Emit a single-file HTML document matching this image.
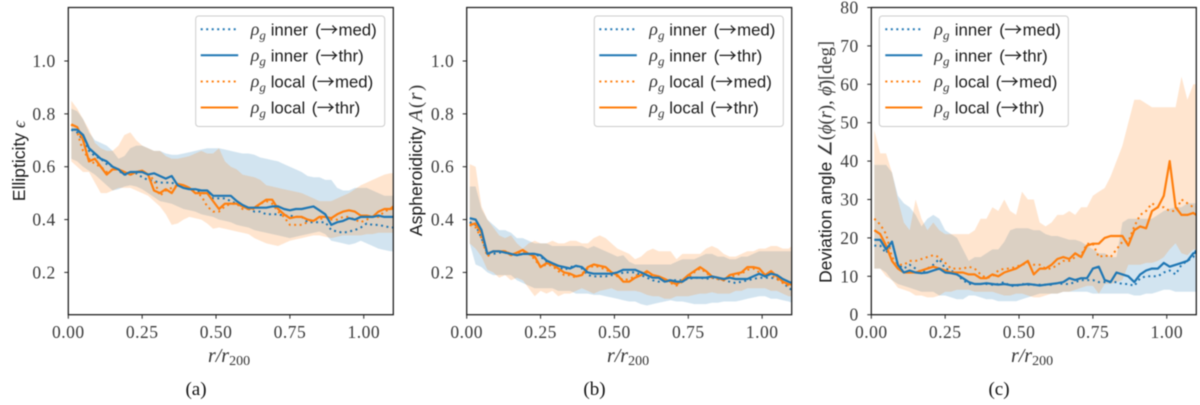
<!DOCTYPE html>
<html lang="en">
<head>
<meta charset="utf-8">
<title>Ellipticity, asphericity and deviation angle profiles</title>
<style>
html,body{margin:0;padding:0;background:#fff;}
body{width:1200px;height:405px;overflow:hidden;}
svg{display:block;filter:blur(0.4px);}
.tick{font-family:"Liberation Serif",serif;font-size:17.5px;letter-spacing:.5px;fill:#3a3a3a;}
.sans{font-family:"Liberation Sans",sans-serif;font-size:17.6px;fill:#1a1a1a;}
.math{font-family:"Liberation Serif",serif;font-style:italic;fill:#333;}
.rom{font-family:"Liberation Serif",serif;font-size:18.5px;fill:#333;}
.cap{font-family:"Liberation Serif",serif;font-size:19px;fill:#111;}
.leg{font-family:"Liberation Sans",sans-serif;font-size:16.8px;fill:#1a1a1a;}
.arr{font-family:"Noto Sans CJK JP",sans-serif;font-size:18px;font-weight:normal;}
</style>
</head>
<body>
<svg xmlns="http://www.w3.org/2000/svg" width="1200" height="405" viewBox="0 0 1200 405">
  <g id="panel-a"></g>
  <g id="panel-b"></g>
  <g id="panel-c"></g>

  <text class="sans" transform="translate(25,161) rotate(-90)" text-anchor="middle">Ellipticity <tspan class="math" font-size="18">ϵ</tspan></text>
  <text class="sans" transform="translate(422,160.5) rotate(-90)" text-anchor="middle">Aspheroidicity <tspan class="math" font-size="20" letter-spacing="1.5">A</tspan><tspan class="rom" font-size="20" letter-spacing="1.5">(</tspan><tspan class="math" font-size="20" letter-spacing="1.5">r</tspan><tspan class="rom" font-size="20">)</tspan></text>
  <text class="sans" transform="translate(831.5,162) rotate(-90)" text-anchor="middle">Deviation angle <tspan class="rom">∠(</tspan><tspan class="math" font-size="18.5">ϕ</tspan><tspan class="rom">(</tspan><tspan class="math" font-size="18.5">r</tspan><tspan class="rom">), </tspan><tspan class="math" font-size="18.5">ϕ̄</tspan><tspan class="rom">)[deg]</tspan></text>

  <text class="math" x="229" y="362" font-size="20" text-anchor="middle">r/r<tspan dy="3" font-size="14" font-style="normal">200</tspan></text>
  <text class="math" x="628" y="362" font-size="20" text-anchor="middle">r/r<tspan dy="3" font-size="14" font-style="normal">200</tspan></text>
  <text class="math" x="1032" y="362" font-size="20" text-anchor="middle">r/r<tspan dy="3" font-size="14" font-style="normal">200</tspan></text>

  <text class="cap" x="196" y="395" text-anchor="middle">(a)</text>
  <text class="cap" x="594.5" y="395" text-anchor="middle">(b)</text>
  <text class="cap" x="999" y="395" text-anchor="middle">(c)</text>

  <g transform="translate(195.7,16)">
    <rect x="0" y="0" width="189" height="110.5" rx="3" fill="#fff" fill-opacity="0.8" stroke="#ccc"/>
    <line x1="5" x2="42.5" y1="13.3" y2="13.3" stroke="#1f77b4" stroke-width="2" stroke-dasharray="2 3.5"/>
    <text x="55" y="19" class="math" font-size="18">ρ<tspan dy="4.5" font-size="13">g</tspan></text>
    <text x="75" y="19.5" class="leg">inner <tspan x="119.5">(</tspan><tspan class="arr" x="124.5" dy="1">→</tspan><tspan x="142.8" dy="-1">med)</tspan></text>
    <line x1="5" x2="42.5" y1="39.3" y2="39.3" stroke="#1f77b4" stroke-width="2"/>
    <text x="55" y="45" class="math" font-size="18">ρ<tspan dy="4.5" font-size="13">g</tspan></text>
    <text x="75" y="45.5" class="leg">inner <tspan x="119.5">(</tspan><tspan class="arr" x="124.5" dy="1">→</tspan><tspan x="142.8" dy="-1">thr)</tspan></text>
    <line x1="5" x2="42.5" y1="65.5" y2="65.5" stroke="#ff7f0e" stroke-width="2" stroke-dasharray="2 3.5"/>
    <text x="55" y="71" class="math" font-size="18">ρ<tspan dy="4.5" font-size="13">g</tspan></text>
    <text x="75" y="71.5" class="leg">local <tspan x="116">(</tspan><tspan class="arr" x="121" dy="1">→</tspan><tspan x="139.3" dy="-1">med)</tspan></text>
    <line x1="5" x2="42.5" y1="91.5" y2="91.5" stroke="#ff7f0e" stroke-width="2"/>
    <text x="55" y="97" class="math" font-size="18">ρ<tspan dy="4.5" font-size="13">g</tspan></text>
    <text x="75" y="97.5" class="leg">local <tspan x="116">(</tspan><tspan class="arr" x="121" dy="1">→</tspan><tspan x="139.3" dy="-1">thr)</tspan></text>
  </g>

  <g transform="translate(594.3,16)">
    <rect x="0" y="0" width="189" height="110.5" rx="3" fill="#fff" fill-opacity="0.8" stroke="#ccc"/>
    <line x1="5" x2="42.5" y1="13.3" y2="13.3" stroke="#1f77b4" stroke-width="2" stroke-dasharray="2 3.5"/>
    <text x="55" y="19" class="math" font-size="18">ρ<tspan dy="4.5" font-size="13">g</tspan></text>
    <text x="75" y="19.5" class="leg">inner <tspan x="119.5">(</tspan><tspan class="arr" x="124.5" dy="1">→</tspan><tspan x="142.8" dy="-1">med)</tspan></text>
    <line x1="5" x2="42.5" y1="39.3" y2="39.3" stroke="#1f77b4" stroke-width="2"/>
    <text x="55" y="45" class="math" font-size="18">ρ<tspan dy="4.5" font-size="13">g</tspan></text>
    <text x="75" y="45.5" class="leg">inner <tspan x="119.5">(</tspan><tspan class="arr" x="124.5" dy="1">→</tspan><tspan x="142.8" dy="-1">thr)</tspan></text>
    <line x1="5" x2="42.5" y1="65.5" y2="65.5" stroke="#ff7f0e" stroke-width="2" stroke-dasharray="2 3.5"/>
    <text x="55" y="71" class="math" font-size="18">ρ<tspan dy="4.5" font-size="13">g</tspan></text>
    <text x="75" y="71.5" class="leg">local <tspan x="116">(</tspan><tspan class="arr" x="121" dy="1">→</tspan><tspan x="139.3" dy="-1">med)</tspan></text>
    <line x1="5" x2="42.5" y1="91.5" y2="91.5" stroke="#ff7f0e" stroke-width="2"/>
    <text x="55" y="97" class="math" font-size="18">ρ<tspan dy="4.5" font-size="13">g</tspan></text>
    <text x="75" y="97.5" class="leg">local <tspan x="116">(</tspan><tspan class="arr" x="121" dy="1">→</tspan><tspan x="139.3" dy="-1">thr)</tspan></text>
  </g>

  <g transform="translate(879.3,16)">
    <rect x="0" y="0" width="189" height="110.5" rx="3" fill="#fff" fill-opacity="0.8" stroke="#ccc"/>
    <line x1="6" x2="43" y1="13.3" y2="13.3" stroke="#1f77b4" stroke-width="2" stroke-dasharray="2 3.5"/>
    <text x="55" y="19" class="math" font-size="18">ρ<tspan dy="4.5" font-size="13">g</tspan></text>
    <text x="75.5" y="19.5" class="leg">inner <tspan x="120">(</tspan><tspan class="arr" x="125" dy="1">→</tspan><tspan x="143.3" dy="-1">med)</tspan></text>
    <line x1="6" x2="43" y1="39.3" y2="39.3" stroke="#1f77b4" stroke-width="2"/>
    <text x="55" y="45" class="math" font-size="18">ρ<tspan dy="4.5" font-size="13">g</tspan></text>
    <text x="75.5" y="45.5" class="leg">inner <tspan x="120">(</tspan><tspan class="arr" x="125" dy="1">→</tspan><tspan x="143.3" dy="-1">thr)</tspan></text>
    <line x1="6" x2="43" y1="65.5" y2="65.5" stroke="#ff7f0e" stroke-width="2" stroke-dasharray="2 3.5"/>
    <text x="55" y="71" class="math" font-size="18">ρ<tspan dy="4.5" font-size="13">g</tspan></text>
    <text x="75.5" y="71.5" class="leg">local <tspan x="116.5">(</tspan><tspan class="arr" x="121.5" dy="1">→</tspan><tspan x="139.8" dy="-1">med)</tspan></text>
    <line x1="6" x2="43" y1="91.5" y2="91.5" stroke="#ff7f0e" stroke-width="2"/>
    <text x="55" y="97" class="math" font-size="18">ρ<tspan dy="4.5" font-size="13">g</tspan></text>
    <text x="75.5" y="97.5" class="leg">local <tspan x="116.5">(</tspan><tspan class="arr" x="121.5" dy="1">→</tspan><tspan x="139.8" dy="-1">thr)</tspan></text>
  </g>
</svg>
<script>
var radii=[.01,.03,.05,.07,.09,.11,.13,.15,.17,.19,.21,.23,.25,.27,.29,.31,.33,.35,.37,.39,.41,.43,.45,.47,.49,.51,.53,.55,.57,.59,.61,.63,.65,.67,.69,.71,.73,.75,.77,.79,.81,.83,.85,.87,.89,.91,.93,.95,.97,.99,1.01,1.03,1.05,1.07,1.09,1.10];
var xTickValues=[0,.25,.5,.75,1];
var xTickLabels=['0.00','0.25','0.50','0.75','1.00'];
var ratioTickValues=[.2,.4,.6,.8,1];
var ratioTickLabels=['0.2','0.4','0.6','0.8','1.0'];
var angleTickValues=[0,10,20,30,40,50,60,70,80];
var angleTickLabels=['0','10','20','30','40','50','60','70','80'];

var aInnerMed=[.74,.73,.70,.66,.64,.63,.61,.60,.585,.57,.57,.575,.56,.55,.545,.54,.54,.54,.53,.52,.515,.51,.50,.50,.48,.48,.48,.47,.46,.45,.44,.43,.43,.42,.42,.42,.415,.415,.41,.41,.39,.39,.39,.39,.36,.355,.35,.355,.36,.37,.385,.38,.38,.375,.37,.37];
var aInnerThr=[.74,.74,.72,.67,.65,.63,.62,.60,.59,.57,.58,.58,.58,.57,.575,.565,.555,.565,.53,.52,.515,.515,.51,.51,.49,.49,.49,.49,.47,.455,.445,.445,.445,.445,.45,.45,.44,.435,.44,.44,.445,.45,.435,.42,.38,.39,.395,.405,.40,.41,.41,.41,.415,.41,.41,.41];
var aLocalMed=[.76,.73,.66,.63,.61,.60,.58,.59,.59,.58,.57,.58,.58,.57,.55,.49,.51,.52,.53,.53,.52,.50,.49,.45,.43,.43,.45,.46,.46,.44,.44,.44,.46,.47,.46,.43,.41,.38,.38,.38,.39,.40,.40,.41,.40,.40,.41,.41,.40,.39,.40,.41,.41,.43,.44,.44];
var aLocalThr=[.76,.75,.70,.62,.63,.60,.57,.59,.59,.58,.57,.58,.585,.57,.51,.50,.515,.50,.535,.53,.52,.50,.50,.50,.47,.44,.46,.46,.46,.45,.44,.445,.46,.475,.475,.44,.42,.405,.41,.41,.40,.395,.41,.41,.405,.42,.43,.435,.43,.415,.415,.41,.43,.44,.44,.45];
var aInnerHigh=[.82,.81,.78,.73,.70,.69,.68,.66,.63,.64,.67,.68,.68,.67,.66,.66,.65,.645,.645,.65,.655,.66,.665,.67,.67,.67,.665,.66,.655,.65,.65,.645,.635,.63,.625,.62,.61,.60,.59,.58,.565,.56,.56,.55,.55,.52,.51,.51,.52,.52,.52,.51,.50,.49,.49,.49];
var aInnerLow=[.63,.62,.60,.585,.57,.55,.53,.51,.515,.525,.53,.525,.515,.50,.485,.47,.465,.46,.45,.44,.435,.43,.42,.415,.41,.40,.395,.39,.38,.375,.37,.36,.355,.35,.345,.34,.335,.33,.335,.34,.345,.35,.355,.345,.32,.315,.31,.305,.31,.32,.31,.30,.29,.285,.28,.28];
var aLocalHigh=[.85,.82,.78,.74,.69,.67,.66,.66,.68,.72,.73,.70,.68,.67,.66,.66,.64,.63,.63,.635,.64,.65,.66,.65,.65,.67,.62,.60,.59,.57,.565,.56,.55,.53,.525,.52,.515,.51,.505,.50,.49,.48,.47,.47,.47,.48,.49,.50,.515,.53,.54,.55,.56,.57,.575,.575];
var aLocalLow=[.62,.60,.58,.58,.54,.50,.50,.51,.52,.52,.52,.51,.50,.49,.47,.45,.42,.38,.385,.40,.41,.405,.40,.385,.365,.37,.365,.36,.355,.35,.345,.33,.32,.31,.305,.30,.31,.32,.325,.33,.335,.34,.34,.335,.33,.335,.34,.34,.34,.34,.345,.345,.35,.35,.35,.35];

var bInnerMed=[.39,.38,.33,.27,.27,.275,.275,.27,.265,.27,.27,.27,.26,.24,.23,.22,.21,.22,.225,.215,.19,.185,.185,.185,.19,.19,.20,.20,.20,.19,.18,.17,.165,.17,.17,.17,.17,.175,.18,.18,.175,.18,.175,.17,.165,.16,.165,.17,.175,.18,.18,.18,.175,.165,.14,.135];
var bInnerThr=[.405,.40,.36,.27,.28,.28,.275,.27,.265,.27,.27,.27,.265,.245,.235,.225,.22,.215,.225,.22,.20,.195,.195,.195,.195,.20,.21,.21,.21,.20,.19,.18,.18,.165,.17,.165,.165,.18,.18,.18,.18,.185,.18,.175,.18,.175,.175,.175,.185,.195,.185,.195,.19,.175,.165,.16];
var bLocalMed=[.38,.37,.33,.26,.28,.28,.28,.27,.27,.28,.27,.25,.22,.23,.225,.205,.19,.19,.18,.195,.215,.225,.22,.21,.20,.185,.17,.175,.185,.20,.20,.185,.18,.17,.16,.15,.165,.18,.20,.215,.20,.18,.175,.175,.18,.19,.195,.21,.215,.20,.19,.19,.175,.16,.15,.15];
var bLocalThr=[.38,.385,.35,.27,.28,.28,.28,.265,.275,.285,.27,.26,.22,.235,.23,.215,.20,.195,.185,.19,.22,.23,.225,.22,.20,.19,.165,.165,.18,.19,.205,.19,.185,.175,.165,.155,.17,.19,.205,.22,.205,.185,.18,.17,.19,.195,.20,.22,.22,.215,.19,.205,.185,.165,.155,.155];
var bInnerHigh=[.525,.525,.44,.40,.38,.36,.36,.35,.33,.33,.32,.31,.31,.31,.30,.30,.30,.30,.30,.30,.29,.30,.29,.28,.27,.26,.265,.24,.23,.23,.23,.23,.23,.23,.23,.24,.25,.25,.25,.26,.27,.27,.26,.26,.25,.25,.26,.26,.27,.28,.28,.28,.28,.28,.28,.28];
var bInnerLow=[.31,.23,.22,.20,.19,.19,.19,.19,.17,.16,.15,.14,.14,.14,.14,.13,.13,.13,.12,.12,.12,.115,.115,.11,.105,.10,.095,.09,.09,.08,.075,.08,.085,.09,.095,.09,.09,.085,.08,.08,.08,.085,.085,.09,.09,.09,.095,.10,.105,.11,.11,.10,.10,.095,.09,.085];
var bLocalHigh=[.61,.60,.45,.40,.37,.34,.33,.34,.31,.29,.31,.32,.31,.31,.32,.31,.31,.32,.32,.31,.31,.33,.34,.33,.31,.29,.28,.27,.25,.26,.28,.29,.28,.28,.28,.25,.27,.27,.27,.27,.29,.30,.29,.27,.26,.26,.27,.28,.28,.29,.29,.30,.30,.29,.29,.30];
var bLocalLow=[.31,.29,.26,.21,.20,.18,.19,.17,.18,.17,.14,.11,.13,.12,.13,.11,.12,.12,.13,.14,.13,.12,.13,.135,.14,.13,.13,.13,.13,.125,.115,.11,.11,.10,.10,.11,.11,.11,.115,.12,.12,.125,.12,.12,.12,.13,.13,.14,.14,.14,.14,.13,.13,.12,.11,.11];

var cInnerMed=[18,18,16,19,13,12,13,12,11,12,13,14.5,12,11.5,10.5,9,8,8,8,8,7.8,8,8.5,7.5,7.5,8,7.8,7.8,7.8,7.8,7.8,8.2,8,8,8.5,9,9,9,8.5,8.5,8.5,8.5,8,8,7.5,9.5,10,10,10,11,11.5,10.5,13,14,15,17];
var cInnerThr=[19.5,19.5,17,19,13,11,11.5,11,10.8,11,11.5,12,11,10.8,10.5,9.5,8.5,8,8,8.2,8,7.8,8,7.7,7.7,7.8,8,7.8,7.6,7.8,8,8.2,8.5,9.5,9,9.5,9.5,12,12.5,9,8.5,11,10.5,10,8.5,10.5,11.5,12,12,13.5,12.5,13,13.5,14,16,16.2];
var cLocalMed=[25,23.5,21,15,13,13,14,14,14.5,15,15.5,15,13.5,12,12,12,12.5,12,10.5,9.5,10,11.5,12,12,12.5,13,13.5,13,13,12,12,13,14,14,15,15.5,18.5,18.5,15,15.5,15,17,19,19,23,26,27,29,28,28,27,27,30,29,28,28];
var cLocalThr=[22,21,18,14,12,11,11,11,11.5,12,12.5,12,11.5,11,11,11,10.5,10.5,9.5,9.5,10.5,10,11,11.5,12,13,14,10.5,12,12,13,14.5,15,14.5,16,15,18,18.5,18.5,20,20.5,20.5,20.5,18,22,23,22.5,27,28,31,40,28,26,26,26.5,26];
var cInnerHigh=[39,39,39,37,31,29,28,26,23,25,26,25,22,21,20,17,14,15,15,16,17,17,19,22,22.5,22.5,22.5,22,22,21,20.5,20.5,20,19.5,19.5,19,18,17,16,16,15,15,24,25,25,25,25,25,26,27,27.6,28,28,29,29,29];
var cInnerLow=[12,12,11,9,8,7.5,7,6.5,6,6,6,5,5,4.5,4,4,5,5,4.5,4,4,3.5,3.5,3.5,3.5,4,4.5,5,5.5,5.5,5.5,5.5,6,6,6,6,6,5.5,5.5,5.5,5.5,5.5,5.5,5.5,5,5,5.5,5.5,6,6.5,6.5,6,6,6,6,6];
var cLocalHigh=[48,42,42,37,30,24,22,30,25,22,24,22,21,21,21,21,21,22,25,25,28,27,30,27,26,32,30,30,24,23,24,26,26,27,26,28,28,31,32,33,36,40,44,50,56,56,55,54,54,54,54,54,62,56,60,60];
var cLocalLow=[12,12,10,9,7,6.5,6,5,5,4.5,4.5,5,6,6,6.5,6.5,6.5,6,6,6,6,5.5,5,5,5.5,5.5,5,4.5,4.5,5,5.5,5.5,6,6,6.5,7,7.5,7.5,5.5,8,8,8.5,9,13,13,13,13.5,13.5,14,15,17,18.6,16,15.5,17,17];

var SVGNS='http://www.w3.org/2000/svg';
var PLOT_TOP=7.5,PLOT_BOTTOM=314.7,PLOT_WIDTH=325;
var BLUE='#1f77b4',ORANGE='#ff7f0e';

function xScale(value,left){return left+value/1.1*PLOT_WIDTH;}
function yScale(value,yMin,yMax){return PLOT_BOTTOM-(value-yMin)/(yMax-yMin)*(PLOT_BOTTOM-PLOT_TOP);}
function make(tag,attrs,parent){
  var el=document.createElementNS(SVGNS,tag);
  for(var k in attrs){el.setAttribute(k,attrs[k]);}
  parent.appendChild(el);
  return el;
}
function drawBand(g,low,high,color,left,yMin,yMax){
  var d='';
  for(var i=0;i<radii.length;i++){d+=(i?'L':'M')+xScale(radii[i],left).toFixed(1)+' '+yScale(high[i],yMin,yMax).toFixed(1);}
  for(var j=radii.length-1;j>=0;j--){d+='L'+xScale(radii[j],left).toFixed(1)+' '+yScale(low[j],yMin,yMax).toFixed(1);}
  var el=make('path',{d:d+'Z',fill:color,'fill-opacity':0.2,stroke:'none'},g);
  
  
}
function drawLine(g,values,color,dotted,left,yMin,yMax){
  var d='';
  for(var i=0;i<radii.length;i++){d+=(i?'L':'M')+xScale(radii[i],left).toFixed(1)+' '+yScale(values[i],yMin,yMax).toFixed(1);}
  var el=make('path',{d:d,fill:'none',stroke:color,'stroke-width':dotted?2:2.2,'stroke-linejoin':'round','stroke-dasharray':dotted?'2 3.5':'none'},g);
  
  
}
function drawPanel(id,left,yMin,yMax,yTicks,yLabels,series){
  var g=document.getElementById(id);
  var clipId='clip-'+id;
  var defs=make('defs',{},g);
  var cp=make('clipPath',{id:clipId},defs);
  make('rect',{x:left,y:PLOT_TOP,width:PLOT_WIDTH,height:PLOT_BOTTOM-PLOT_TOP},cp);
  var plot=make('g',{'clip-path':'url(#'+clipId+')'},g);
  
  
  drawBand(plot,series.innerLow,series.innerHigh,BLUE,left,yMin,yMax);
  drawBand(plot,series.localLow,series.localHigh,ORANGE,left,yMin,yMax);
  drawLine(plot,series.innerMed,BLUE,true,left,yMin,yMax);
  drawLine(plot,series.localMed,ORANGE,true,left,yMin,yMax);
  drawLine(plot,series.localThr,ORANGE,false,left,yMin,yMax);
  drawLine(plot,series.innerThr,BLUE,false,left,yMin,yMax);
  var frame=make('rect',{x:left,y:PLOT_TOP,width:PLOT_WIDTH,height:PLOT_BOTTOM-PLOT_TOP,fill:'none',stroke:'#1a1a1a','stroke-width':1.25},g);
  
  
  xTickValues.forEach(function(v,i){
    var x=xScale(v,left);
    var t=make('line',{x1:x,x2:x,y1:PLOT_BOTTOM,y2:PLOT_BOTTOM+4,stroke:'#222','stroke-width':1},g);
    
    
    var l=make('text',{x:x,y:338,'text-anchor':'middle','class':'tick'},g);
    l.textContent=xTickLabels[i];
    
    
  });
  yTicks.forEach(function(v,i){
    var y=yScale(v,yMin,yMax);
    var t=make('line',{x1:left-4,x2:left,y1:y,y2:y,stroke:'#222','stroke-width':1},g);
    
    
    var l=make('text',{x:left-12.5,y:y+6,'text-anchor':'end','class':'tick'},g);
    l.textContent=yLabels[i];
    
    
  });
}
drawPanel('panel-a',68.3,.04,1.2025,ratioTickValues,ratioTickLabels,{innerMed:aInnerMed,innerThr:aInnerThr,localMed:aLocalMed,localThr:aLocalThr,innerHigh:aInnerHigh,innerLow:aInnerLow,localHigh:aLocalHigh,localLow:aLocalLow});
drawPanel('panel-b',466.7,.04,1.2025,ratioTickValues,ratioTickLabels,{innerMed:bInnerMed,innerThr:bInnerThr,localMed:bLocalMed,localThr:bLocalThr,innerHigh:bInnerHigh,innerLow:bInnerLow,localHigh:bLocalHigh,localLow:bLocalLow});
drawPanel('panel-c',871.3,0,80,angleTickValues,angleTickLabels,{innerMed:cInnerMed,innerThr:cInnerThr,localMed:cLocalMed,localThr:cLocalThr,innerHigh:cInnerHigh,innerLow:cInnerLow,localHigh:cLocalHigh,localLow:cLocalLow});
</script>
</body>
</html>
